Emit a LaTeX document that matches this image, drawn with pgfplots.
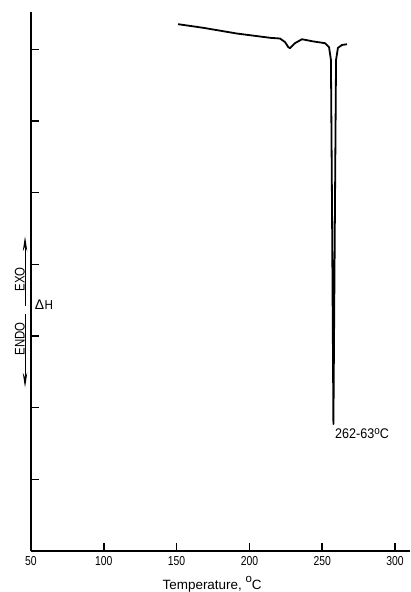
\documentclass[border=0pt]{standalone}
\usepackage{fontspec}
\setmainfont{Liberation Sans}
\newfontfamily\narrow[FakeStretch=0.8]{Liberation Sans}
\newfontfamily\semi[FakeStretch=0.9]{Liberation Sans}
\newfontfamily\vnarrow[FakeStretch=0.82]{Liberation Sans}
\usepackage{pgfplots}
\pgfplotsset{compat=1.18}
\usetikzlibrary{arrows.meta}
\begin{document}
\begin{tikzpicture}
\useasboundingbox (-31bp,-41bp) rectangle (380bp,551bp);
\begin{axis}[
  scale only axis, width=379bp, height=539bp,
  at={(0,0)}, anchor=south west,
  xmin=50, xmax=310.3, ymin=0, ymax=7.52,
  axis lines*=left,
  xtick={50,100,...,300}, ytick={1,...,7}, yticklabels={},
  tick align=inside, major tick length=7.5bp,
  tick style={line width=1.5bp, black},
  axis line style={line width=1.2bp},
  ticklabel style={font=\narrow\fontsize{13}{13}\selectfont},
  xticklabel style={yshift=-2bp},
  /pgf/number format/assume math mode=true,
  xlabel={Temperature,\ \raisebox{0.95ex}{\fontsize{11.5}{11.5}\selectfont o}C},
  xlabel style={font=\fontsize{13.5}{13.5}\selectfont, at={(axis description cs:0.478,0)}, anchor=base, yshift=-38bp},
  clip=false,
]
\addplot[black, line width=1.8bp, line join=round] coordinates {
(151.0,7.35)
(168.1,7.30)
(191.3,7.22)
(214.2,7.16)
(221.0,7.15)
(224.5,7.10)
(226.7,7.03)
(227.9,7.015)
(231.3,7.085)
(236.1,7.14)
(243.7,7.11)
(251.9,7.085)
(254.7,7.03)
(256.0,6.85)
(256.7,4.9)
(257.7,1.77)
(258.8,4.9)
(259.5,6.85)
(260.8,7.02)
(263.6,7.06)
(267.0,7.07)
};
\node[anchor=base west, inner sep=0pt, font=\semi\fontsize{14}{14}\selectfont] at (axis cs:258.8,1.572) {262-63\raisebox{0.55ex}{\fontsize{11}{11}\selectfont o}C};
\draw[line width=0.9bp, -{Stealth[length=15bp,width=4.5bp]}] (axis cs:45.9,3.42) -- (axis cs:45.9,4.39);
\draw[line width=0.9bp, -{Stealth[length=15bp,width=4.5bp]}] (axis cs:45.9,3.30) -- (axis cs:45.9,2.28);
\node[rotate=90, inner sep=0pt, font=\vnarrow\fontsize{14}{14}\selectfont] at (axis cs:42.4,3.79) {EXO};
\node[rotate=90, inner sep=0pt, font=\vnarrow\fontsize{14}{14}\selectfont] at (axis cs:42.4,2.96) {ENDO};
\node[inner sep=0pt, font=\fontsize{14}{14}\selectfont] at (axis cs:58.9,3.44) {Δ\kern0.5bp{\semi\fontsize{13}{13}\selectfont H}};
\end{axis}
\end{tikzpicture}
\end{document}
